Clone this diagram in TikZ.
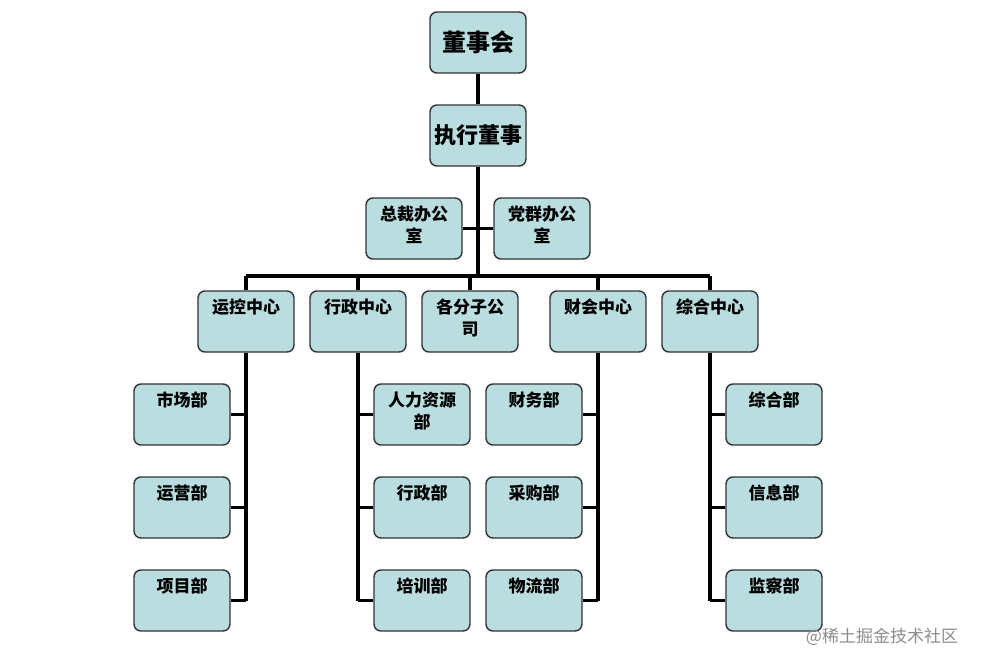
\documentclass[tikz,border=0pt]{standalone}
\usepackage{fontspec}
\newfontfamily\cjk{Noto Sans CJK SC}
\usetikzlibrary{positioning}
\definecolor{boxfill}{RGB}{186,222,224}
\definecolor{boxline}{RGB}{50,50,50}
\newcommand{\toptext}[1]{\parbox[c][45pt][t]{90pt}{\centering #1}}
\tikzset{
  unit/.style={draw=boxline, line width=1.4pt, fill=boxfill, rounded corners=7pt,
    minimum width=96pt, minimum height=61pt, inner xsep=3pt, inner ysep=7pt,
    font=\cjk\bfseries\fontsize{17}{22}\selectfont, align=center},
  head/.style={unit, inner sep=0pt},
  link/.style={line width=3.4pt, black}
}
\begin{document}
\begin{tikzpicture}[x=1pt,y=-1pt]
			\useasboundingbox (0,0) rectangle (982,669);
			% top of the tree
			\node[head, font=\cjk\bfseries\fontsize{24}{28}\selectfont] (board) at (478,42.5) {董事会};
			\node[head, font=\cjk\bfseries\fontsize{22}{26}\selectfont] (exec) at (478,135.5) {执行董事};
			\node[unit] (pres) at (414,228.5) {\toptext{总裁办公\\室}};
			\node[unit] (party) at (542,228.5) {\toptext{党群办公\\室}};
			\coordinate (bus) at (478,276);
			% centres
			\node[unit] (ops) at (246,321.5) {\toptext{运控中心}};
			\node[unit] (admin) at (358,321.5) {\toptext{行政中心}};
			\node[unit] (subs) at (470,321.5) {\toptext{各分子公\\司}};
			\node[unit] (fin) at (598,321.5) {\toptext{财会中心}};
			\node[unit] (comp) at (710,321.5) {\toptext{综合中心}};
			% departments
			\node[unit] (market) at (182,414.5) {\toptext{市场部}};
			\node[unit] (operate) at (182,507.5) {\toptext{运营部}};
			\node[unit] (project) at (182,600.5) {\toptext{项目部}};
			\node[unit] (hr) at (422,414.5) {\toptext{人力资源\\部}};
			\node[unit] (adm) at (422,507.5) {\toptext{行政部}};
			\node[unit] (train) at (422,600.5) {\toptext{培训部}};
			\node[unit] (acct) at (534,414.5) {\toptext{财务部}};
			\node[unit] (purch) at (534,507.5) {\toptext{采购部}};
			\node[unit] (logis) at (534,600.5) {\toptext{物流部}};
			\node[unit] (gen) at (774,414.5) {\toptext{综合部}};
			\node[unit] (info) at (774,507.5) {\toptext{信息部}};
			\node[unit] (audit) at (774,600.5) {\toptext{监察部}};
			% connectors
			\draw[link] (board) -- (exec);
			\draw[link] (exec) -- (bus);
			\draw[link] (pres.east) -- (party.west);
			\draw[link] (ops.north |- bus) -- (comp.north |- bus);
			\foreach \c in {ops,admin,subs,fin,comp}
				\draw[link] (\c.north) -- (\c.north |- bus);
			\draw[link] (ops.south) -- (ops.south |- project.east);
			\foreach \d in {market,operate,project}
				\draw[link] (\d.east) -- (ops.south |- \d.east);
			\draw[link] (admin.south) -- (admin.south |- train.west);
			\foreach \d in {hr,adm,train}
				\draw[link] (\d.west) -- (admin.south |- \d.west);
			\draw[link] (fin.south) -- (fin.south |- logis.east);
			\foreach \d in {acct,purch,logis}
				\draw[link] (\d.east) -- (fin.south |- \d.east);
			\draw[link] (comp.south) -- (comp.south |- audit.west);
			\foreach \d in {gen,info,audit}
				\draw[link] (\d.west) -- (comp.south |- \d.west);
			% watermark
			\node[text=black!45, font=\cjk\fontsize{17}{19}\selectfont] (mark) at (882,637) {@稀土掘金技术社区};
		\end{tikzpicture}
\end{document}
